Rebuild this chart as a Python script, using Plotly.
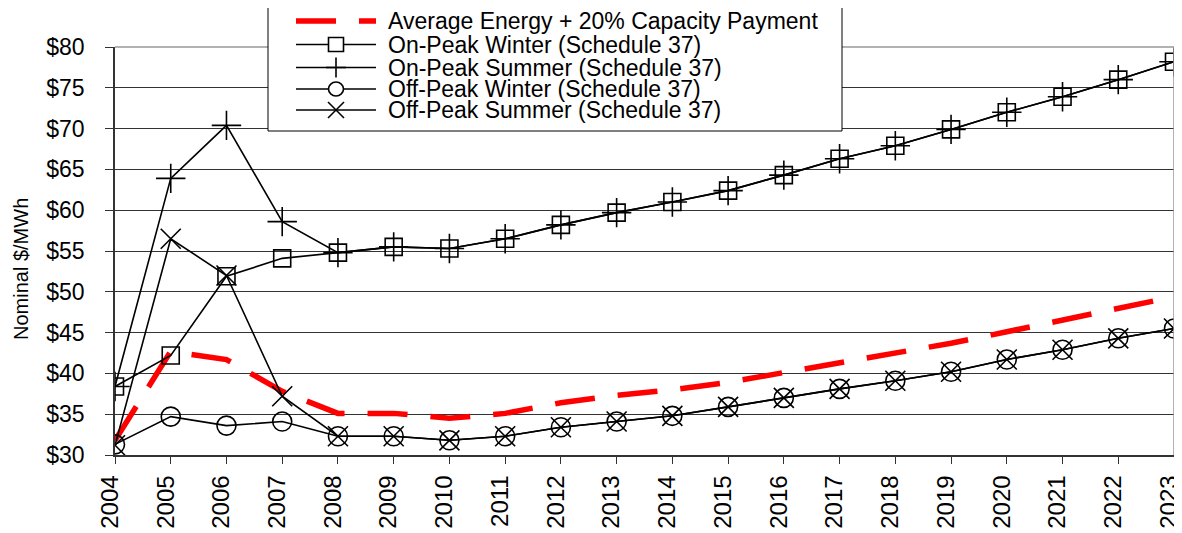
import plotly.graph_objects as go

years = list(range(2004, 2024))
avg_energy = [31.8, 42.7, 41.7, 37.8, 35.1, 35.1, 34.5, 35.1, 36.4, 37.3, 38.0, 38.9, 40.1,
              41.3, 42.5, 43.7, 45.1, 46.5, 47.9, 49.4]
on_peak_winter = [38.4, 42.2, 51.9, 54.1, 54.8, 55.5, 55.3, 56.5, 58.2, 59.7, 61.0, 62.4, 64.3,
                  66.3, 67.9, 69.9, 72.0, 73.9, 76.0, 78.2]
on_peak_summer = [38.4, 63.9, 70.4, 58.6, 54.8, 55.5, 55.3, 56.5, 58.2, 59.7, 61.0, 62.4, 64.3,
                  66.3, 67.9, 69.9, 72.0, 73.9, 76.0, 78.2]
off_peak_winter = [31.3, 34.7, 33.6, 34.1, 32.3, 32.3, 31.8, 32.3, 33.4, 34.1, 34.8, 35.9, 37.0,
                   38.1, 39.1, 40.2, 41.7, 42.9, 44.3, 45.5]
off_peak_summer = [31.2, 56.5, 52.0, 37.2, 32.3, 32.3, 31.8, 32.3, 33.4, 34.1, 34.8, 35.9, 37.0,
                   38.1, 39.1, 40.2, 41.7, 42.9, 44.3, 45.5]
y_ticks = [30, 35, 40, 45, 50, 55, 60, 65, 70, 75, 80]
y_labels = ["$" + str(v) for v in y_ticks]
legend_names = ["Average Energy + 20% Capacity Payment",
                "On-Peak Winter (Schedule 37)",
                "On-Peak Summer (Schedule 37)",
                "Off-Peak Winter (Schedule 37)",
                "Off-Peak Summer (Schedule 37)"]

FONT = "Liberation Sans, Arial, sans-serif"

# page body has an 8px margin; plot area in viewport px: x 115..1174, y 47..455
W, H = 1174, 525
PL, PR, PT, PB = 115, 1174, 47, 455


def px(vx):
    return (vx - PL) / (PR - PL)


def py(vy):
    return (PB - vy) / (PB - PT)


fig = go.Figure()
fig.add_trace(go.Scatter(x=years, y=avg_energy, mode="lines", name=legend_names[0],
                         line=dict(color="#ff0000", width=5.5, dash="40px,23px")))
series = [
    (legend_names[1], on_peak_winter, "square-open", 17),
    (legend_names[2], on_peak_summer, "cross-thin-open", 21),
    (legend_names[3], off_peak_winter, "circle-open", 19),
    (legend_names[4], off_peak_summer, "x-thin-open", 20),
]
for name, vals, sym, size in series:
    fig.add_trace(go.Scatter(x=years, y=vals, mode="lines+markers", name=name,
                             line=dict(color="black", width=1.6),
                             marker=dict(symbol=sym, size=size, color="black",
                                         line=dict(color="black", width=1.6))))

fig.update_layout(
    width=W, height=H,
    margin=dict(l=PL - 8, r=W - (PR - 8), t=PT - 8, b=H - (PB - 8)),
    paper_bgcolor="white", plot_bgcolor="white",
    font=dict(family=FONT, size=20, color="black"),
    showlegend=False,
    xaxis=dict(range=[2004, 2023], tickmode="array", tickvals=years,
               ticktext=[str(y) for y in years], tickangle=-90, automargin=False,
               ticklabeloverflow="allow", ticklabelstandoff=2, ticklabelshift=-5,
               ticks="outside", ticklen=7, tickcolor="#333", showgrid=False,
               showline=True, linecolor="#333", linewidth=1.5, mirror=False,
               tickfont=dict(family=FONT, size=24), zeroline=False),
    yaxis=dict(range=[30, 80], tickmode="array", tickvals=y_ticks, ticktext=y_labels,
               automargin=False, ticklabeloverflow="allow", ticklabelstandoff=16,
               ticks="outside", ticklen=8, tickcolor="#333", showgrid=True,
               gridcolor="#333", gridwidth=1, showline=True, linecolor="#333",
               linewidth=1.8, tickfont=dict(family=FONT, size=23), zeroline=False),
)
fig.add_annotation(text="Nominal $/MWh", textangle=-90, xref="paper", yref="paper",
                   x=px(21), y=py(269), xanchor="center",
                   yanchor="middle", showarrow=False, font=dict(family=FONT, size=20))
fig.add_shape(type="line", xref="paper", yref="paper", x0=0, x1=1, y0=1, y1=1,
              line=dict(color="#999", width=1.5), layer="above")
fig.add_shape(type="line", xref="paper", yref="paper", x0=1, x1=1, y0=0, y1=1,
              line=dict(color="#999", width=1.5), layer="above")

# legend box
fig.add_shape(type="rect", xref="paper", yref="paper", x0=px(268), x1=px(842),
              y0=py(131), y1=py(6.5), fillcolor="white",
              line=dict(color="black", width=1), layer="above")
row_y = [21, 44.5, 67.5, 89, 110]
line_x0, line_x1, mark_x = 296, 376, 336
for i, (name, vy) in enumerate(zip(legend_names, row_y)):
    if i == 0:
        fig.add_shape(type="line", xref="paper", yref="paper", x0=px(line_x0),
                      x1=px(line_x1), y0=py(vy), y1=py(vy), layer="above",
                      line=dict(color="#ff0000", width=5.5, dash="40px,23px"))
    else:
        fig.add_shape(type="line", xref="paper", yref="paper", x0=px(line_x0),
                      x1=px(line_x1), y0=py(vy), y1=py(vy), layer="above",
                      line=dict(color="black", width=1.6))
        common = dict(xref="paper", yref="paper", xsizemode="pixel", ysizemode="pixel",
                      xanchor=px(mark_x), yanchor=py(vy), layer="above")
        if i == 1:
            fig.add_shape(type="rect", x0=-7.5, x1=7.5, y0=-7, y1=7, fillcolor="white",
                          line=dict(color="black", width=1.6), **common)
        elif i == 2:
            fig.add_shape(type="line", x0=-10, x1=10, y0=0, y1=0,
                          line=dict(color="black", width=1.6), **common)
            fig.add_shape(type="line", x0=0, x1=0, y0=-10, y1=10,
                          line=dict(color="black", width=1.6), **common)
        elif i == 3:
            fig.add_shape(type="circle", x0=-7.5, x1=7.5, y0=-7, y1=7, fillcolor="white",
                          line=dict(color="black", width=1.6), **common)
        else:
            fig.add_shape(type="line", x0=-8, x1=8, y0=-8, y1=8,
                          line=dict(color="black", width=1.6), **common)
            fig.add_shape(type="line", x0=-8, x1=8, y0=8, y1=-8,
                          line=dict(color="black", width=1.6), **common)
    fig.add_annotation(text=name, xref="paper", yref="paper", x=px(386), y=py(vy),
                       xanchor="left", yanchor="middle", showarrow=False,
                       font=dict(family=FONT, size=23, color="black"))

fig.write_html("out.html")
